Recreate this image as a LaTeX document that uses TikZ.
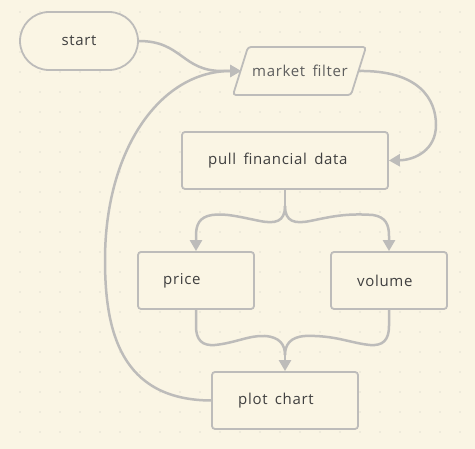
\documentclass[tikz,border=0pt]{standalone}
\usepackage{fontspec}
\setmainfont{Open Sans}[LetterSpace=4.5,WordSpace=1.6]
\usetikzlibrary{arrows.meta}
\definecolor{bg}{HTML}{FAF5E4}
\definecolor{dotc}{HTML}{E2DFD2}
\definecolor{edge}{HTML}{BDBCBA}
\definecolor{txt}{HTML}{3F3F3F}
\definecolor{txtl}{HTML}{5E5E5E}
\tikzset{
  box/.style={draw=edge, line width=1.8pt, rounded corners=3pt, fill=bg},
  lbl/.style={text=txt, font=\fontsize{15}{17}\selectfont, anchor=west, inner sep=0pt},
  conn/.style={draw=edge, line width=2.5pt, -{Triangle[length=11pt,width=12pt]}},
  connplain/.style={draw=edge, line width=2.5pt},
}
\begin{document}
\begin{tikzpicture}[x=1pt,y=-1pt]
\fill[bg] (0,0) rectangle (475,449);
\useasboundingbox (0,0) rectangle (475,449);
\foreach \i in {1,...,23}{\foreach \j in {0,...,21}{
  \fill[dotc] (20*\i,12+20*\j) circle (0.8pt);
}}
% nodes
\node[box, minimum width=118pt, minimum height=58pt, rounded corners=29pt] (start) at (79,41) {};
\node[text=txt, font=\fontsize{15}{17}\selectfont, inner sep=0pt] (startT) at (79,41) {start};
\draw[box] (248,47) -- (366,47) -- (351,95) -- (233,95) -- cycle;
\node[text=txtl, font=\fontsize{15}{17}\selectfont, inner sep=0pt] (mf) at (300,71) {market filter};
\coordinate (mfL) at (241,71);
\coordinate (mfR) at (358,71);
\node[box, minimum width=206pt, minimum height=57pt] (pull) at (285,160.5) {};
\node[lbl] (pullT) at (208,160.5) {pull financial data};
\node[box, minimum width=116pt, minimum height=57pt] (price) at (196,280.5) {};
\node[lbl] (priceT) at (163,280.5) {price};
\node[box, minimum width=116pt, minimum height=57pt] (volume) at (389,280.5) {};
\node[lbl] (volumeT) at (357,280.5) {volume};
\node[box, minimum width=146pt, minimum height=57pt] (plot) at (285,400.5) {};
\node[lbl] (plotT) at (238,400.5) {plot chart};
% connectors
\draw[conn] (start.east) .. controls (182,41) and (182,71) .. (222,71) -- (mfL);
\draw[conn] (mfR) .. controls (420,70) and (436,100) .. (436,125) .. controls (436,150) and (415,160) .. (pull.east);
\coordinate (split) at (285,206);
\draw[connplain] (pull.south) -- (split);
\draw[conn] (split) .. controls (285,222) and (275,224) .. (260,221) .. controls (240,217) and (225,213) .. (212,215) .. controls (199,217) and (196,225) .. (196,236) -- (price.north);
\draw[conn] (split) .. controls (285,222) and (295,224) .. (310,221) .. controls (330,217) and (345,213) .. (373,215) .. controls (386,217) and (389,225) .. (389,236) -- (volume.north);
\coordinate (merge) at (285,355);
\draw[connplain] (price.south) -- (196,326) .. controls (196,340) and (202,346) .. (215,345) .. controls (235,343) and (250,335) .. (265,336) .. controls (280,337) and (285,345) .. (merge);
\draw[connplain] (volume.south) -- (389,326) .. controls (389,340) and (383,346) .. (370,345) .. controls (350,343) and (335,335) .. (305,336) .. controls (290,337) and (285,345) .. (merge);
\draw[conn] (merge) -- (plot.north);
\draw[conn] (plot.west) .. controls (120,400) and (105,330) .. (105,260) .. controls (105,150) and (160,71) .. (mfL);
\end{tikzpicture}
\end{document}
